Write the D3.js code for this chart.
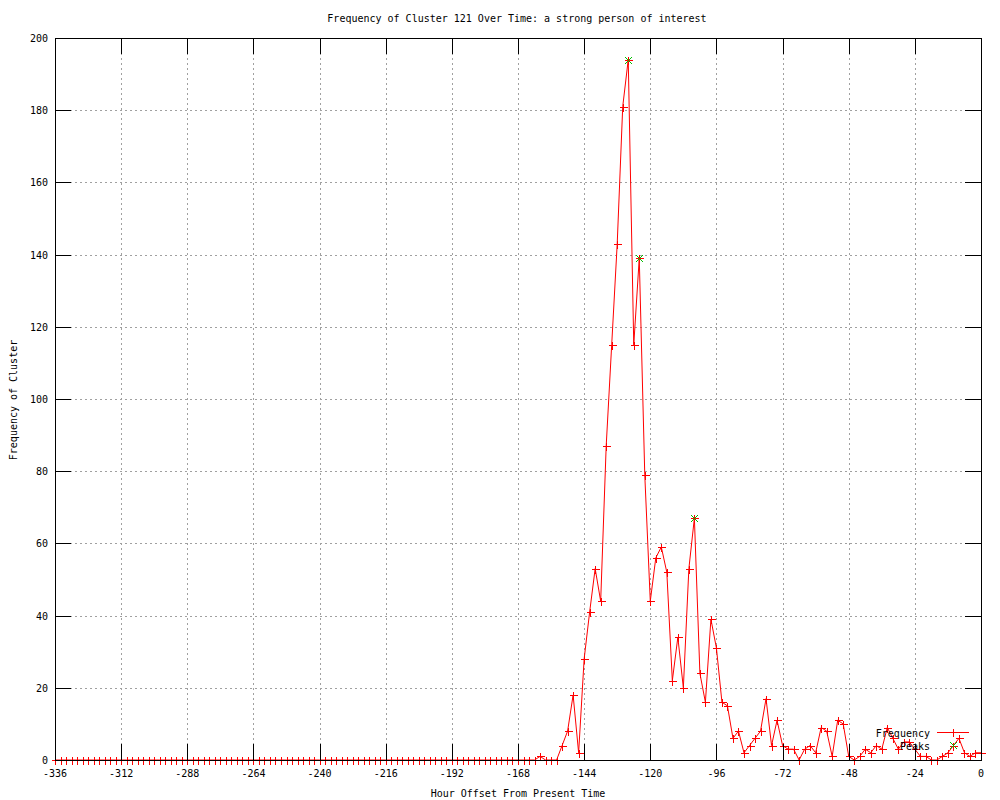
<!DOCTYPE html>
<html>
<head>
<meta charset="utf-8">
<script src="https://cdn.jsdelivr.net/npm/d3@7"></script>
<style>
  body { margin: 0; background: #fff; }
  text { font-family: "DejaVu Sans Mono", "Liberation Mono", monospace; font-size: 10px; fill: #000; }
</style>
</head>
<body>
<div id="chart"></div>
<script>
// hour offsets, every 2 hours from -336 to 0
const hours = d3.range(-336, 1, 2)

// frequency of cluster at each hour offset
const frequency = [
  0, 0, 0, 0, 0, 0, 0, 0, 0, 0, 0,
  0, 0, 0, 0, 0, 0, 0, 0, 0, 0, 0,
  0, 0, 0, 0, 0, 0, 0, 0, 0, 0, 0,
  0, 0, 0, 0, 0, 0, 0, 0, 0, 0, 0,
  0, 0, 0, 0, 0, 0, 0, 0, 0, 0, 0,
  0, 0, 0, 0, 0, 0, 0, 0, 0, 0, 0,
  0, 0, 0, 0, 0, 0, 0, 0, 0, 0, 0,
  0, 0, 0, 0, 0, 0, 0, 0, 0, 0, 0,
  1, 0, 0, 0, 4, 8, 18, 2, 28, 41,
  53, 44, 87, 115, 143, 181, 194, 115, 139, 79,
  44, 56, 59, 52, 22, 34, 20, 53, 67, 24,
  16, 39, 31, 16, 15, 6, 8, 2, 4, 6,
  8, 17, 4, 11, 4, 3, 3, 0, 3, 4,
  2, 9, 8, 1, 11, 10, 1, 0, 1, 3,
  2, 4, 3, 9, 6, 3, 5, 5, 3, 1,
  1, 0, 0, 1, 2, 4, 6, 2, 1, 2,
  2
]

const peakHours = [-128, -124, -104]
const peakValues = [194, 139, 67]

const xTicks = [-336, -312, -288, -264, -240, -216, -192, -168, -144, -120, -96, -72, -48, -24, 0]
const yTicks = [0, 20, 40, 60, 80, 100, 120, 140, 160, 180, 200]

const titleText = 'Frequency of Cluster 121 Over Time: a strong person of interest'
const xLabel = 'Hour Offset From Present Time'
const yLabel = 'Frequency of Cluster'
const seriesNames = ['Frequency', 'Peaks']

const width = 1000, height = 800
const margin = {top: 38, right: 19, bottom: 40, left: 55}
const plotRight = width - margin.right
const plotBottom = height - margin.bottom

const svg = d3.select('#chart').append('svg')
  .attr('width', width)
  .attr('height', height)

svg.append('rect').attr('width', width).attr('height', height).attr('fill', '#fff')

const x = d3.scaleLinear().domain([-336, 0]).range([margin.left, plotRight])
const y = d3.scaleLinear().domain([0, 200]).range([plotBottom, margin.top])

const px = v => Math.round(v) + 0.5
const tickLen = 16

// grid
const grid = svg.append('g').attr('stroke', '#a0a0a0').attr('stroke-dasharray', '2,3')
  .attr('shape-rendering', 'crispEdges')
grid.selectAll('.gx').data(xTicks.slice(1, -1)).enter().append('line')
  .attr('x1', d => px(x(d))).attr('x2', d => px(x(d)))
  .attr('y1', margin.top).attr('y2', plotBottom)
grid.selectAll('.gy').data(yTicks.slice(1, -1)).enter().append('line')
  .attr('y1', d => px(y(d))).attr('y2', d => px(y(d)))
  .attr('x1', margin.left).attr('x2', plotRight)

// frequency line
const data = hours.map((h, i) => ({h: h, v: frequency[i]}))
const line = d3.line().x(d => x(d.h)).y(d => y(d.v))
svg.append('path').datum(data)
  .attr('fill', 'none').attr('stroke', '#ff0000').attr('stroke-width', 1)
  .attr('d', line)

function plus(g, cx, cy, s, color) {
  g.append('path')
    .attr('d', `M${cx - s},${cy}H${cx + s}M${cx},${cy - s}V${cy + s}`)
    .attr('stroke', color).attr('fill', 'none').attr('shape-rendering', 'crispEdges')
}
function cross(g, cx, cy, s, color) {
  g.append('path')
    .attr('d', `M${cx - s},${cy - s}L${cx + s},${cy + s}M${cx - s},${cy + s}L${cx + s},${cy - s}`)
    .attr('stroke', color).attr('fill', 'none')
}

const marks = svg.append('g')
data.forEach(d => plus(marks, px(x(d.h)), px(y(d.v)), 4, '#ff0000'))

peakHours.forEach((h, i) => cross(marks, px(x(h)), px(y(peakValues[i])), 3.5, '#00c000'))

// border and ticks
const frame = svg.append('g').attr('stroke', '#000').attr('shape-rendering', 'crispEdges')
frame.append('rect')
  .attr('x', px(margin.left)).attr('y', px(margin.top))
  .attr('width', plotRight - margin.left).attr('height', plotBottom - margin.top)
  .attr('fill', 'none')

xTicks.forEach(t => {
  const xx = px(x(t))
  frame.append('line').attr('x1', xx).attr('x2', xx).attr('y1', plotBottom).attr('y2', plotBottom - tickLen)
  frame.append('line').attr('x1', xx).attr('x2', xx).attr('y1', margin.top).attr('y2', margin.top + tickLen)
})
yTicks.forEach(t => {
  const yy = px(y(t))
  frame.append('line').attr('y1', yy).attr('y2', yy).attr('x1', margin.left).attr('x2', margin.left + tickLen)
  frame.append('line').attr('y1', yy).attr('y2', yy).attr('x1', plotRight).attr('x2', plotRight - tickLen)
})

// tick labels
svg.append('g').selectAll('text').data(xTicks).enter().append('text')
  .attr('x', d => x(d)).attr('y', plotBottom + 17)
  .attr('text-anchor', 'middle')
  .text(d => String(d))

svg.append('g').selectAll('text').data(yTicks).enter().append('text')
  .attr('x', margin.left - 7).attr('y', d => y(d) + 4)
  .attr('text-anchor', 'end')
  .text(d => d)

// titles
svg.append('text').attr('x', 517).attr('y', 22).attr('text-anchor', 'middle').text(titleText)
svg.append('text').attr('x', 518).attr('y', 797).attr('text-anchor', 'middle').text(xLabel)
svg.append('text').attr('transform', 'translate(17,400) rotate(-90)').attr('text-anchor', 'middle').text(yLabel)

// legend
const legend = svg.append('g')
legend.append('text').attr('x', 930).attr('y', 737).attr('text-anchor', 'end').text(seriesNames[0])
legend.append('line').attr('x1', 937).attr('x2', 969).attr('y1', 732.5).attr('y2', 732.5)
  .attr('stroke', '#ff0000').attr('shape-rendering', 'crispEdges')
plus(legend, 953.5, 732.5, 4, '#ff0000')
legend.append('text').attr('x', 930).attr('y', 750).attr('text-anchor', 'end').text(seriesNames[1])
cross(legend, 953.5, 745.5, 3.5, '#00c000')
</script>
</body>
</html>
